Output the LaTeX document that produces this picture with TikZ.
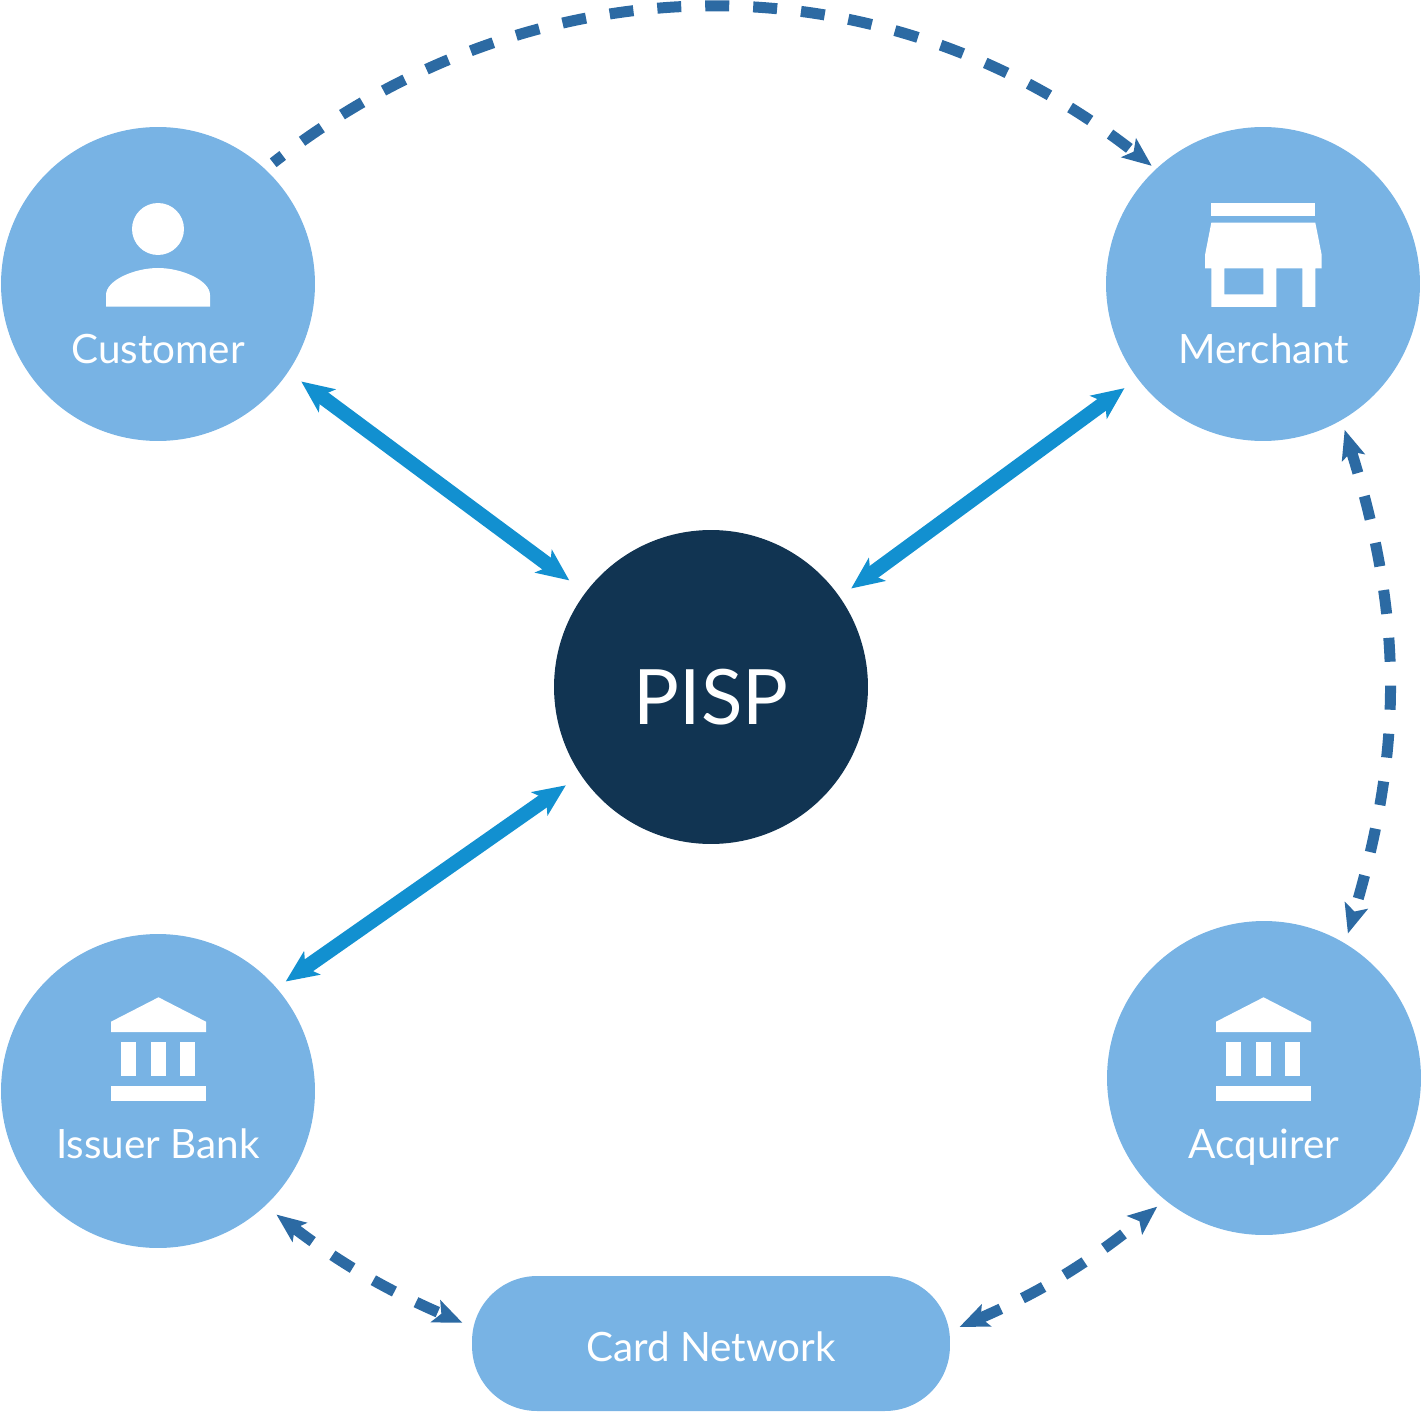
\documentclass[tikz,border=0pt]{standalone}
\usepackage{fontspec}
\setmainfont{Lato}
\usetikzlibrary{arrows.meta}
\definecolor{partyblue}{HTML}{78B3E4}
\definecolor{pispnavy}{HTML}{113452}
\definecolor{flowblue}{HTML}{1290D0}
\definecolor{linkblue}{HTML}{2C6AA3}
\tikzset{%
  party/.style    = {shape=circle, fill=partyblue, inner sep=0pt, minimum size=6.28cm},%
  hub/.style      = {party, fill=pispnavy},%
  network/.style  = {shape=rectangle, rounded corners=1.3cm, fill=partyblue, inner sep=0pt,%
                     minimum width=9.56cm, minimum height=2.7cm},%
  partytext/.style = {text=white, inner sep=0pt, anchor=base, font=\fontsize{23}{27}\selectfont},%
  flowline/.style = {draw=flowblue, line width=0.29cm,%
                     {Stealth[length=0.64cm,width=0.56cm,inset=0.16cm]}-{Stealth[length=0.64cm,width=0.56cm,inset=0.16cm]}},%
  linkline/.style = {draw=linkblue, line width=0.22cm, dash pattern=on 0.48cm off 0.48cm,%
                     shorten <=0.2cm, shorten >=0.2cm},%
  linktip/.style  = {-{Stealth[length=0.58cm,width=0.47cm,inset=0.12cm]}},%
  linktips/.style = {{Stealth[length=0.58cm,width=0.47cm,inset=0.12cm]}-{Stealth[length=0.58cm,width=0.47cm,inset=0.12cm]}},%
  bankicon/.pic = {
    \fill[white] (47.5,-80.7) -- (95,-56.3) -- (95,-46) -- (0,-46) -- (0,-56.3) -- cycle;
    \fill[white] (9.7,-36.3) rectangle (24.7,-1.7);
    \fill[white] (39.7,-36.3) rectangle (54.7,-1.7);
    \fill[white] (69.3,-36.3) rectangle (84.3,-1.7);
    \fill[white] (0,8.3) rectangle (95,23.3);
  }
}
\begin{document}
\begin{tikzpicture}[x=0.02cm,y=-0.02cm]
	\useasboundingbox (0,0) rectangle (1425,1415);
	\node [party] (customer) at (158,284) {};
	\node [party] (merchant) at (1263,284) {};
	\node [hub] (pisp) at (711,687) {};
	\node [party] (issuer) at (158,1091) {};
	\node [party] (acquirer) at (1264,1078) {};
	\node [network] (card) at (711,1343.5) {};
	\node [partytext] (customertext) at (158,364) {Customer};
	\node [partytext] (merchanttext) at (1264,364) {Merchant};
	\node [partytext] (issuertext) at (158,1158) {Issuer Bank};
	\node [partytext] (acquirertext) at (1264,1158) {Acquirer};
	\node [partytext] (cardtext) at (711,1361) {Card Network};
	\node [partytext, font=\fontsize{43.5}{50}\selectfont] (pisptext) at (711,724) {PISP};
	% icons
	\fill[white] (158,229) circle (0.52cm);
	\fill[white] (106,306.7) -- (106,295) .. controls (106,280) and (135,268) .. (158,268)
		.. controls (181,268) and (210,280) .. (210,295) -- (210,306.7) -- cycle;
	\fill[white] (1211.3,203.3) rectangle (1315.3,216);
	\fill[white, even odd rule] (1211.3,222.7) -- (1315.3,222.7) -- (1321.7,255) -- (1321.7,268.3)
		-- (1315.3,268.3) -- (1315.3,307) -- (1302.3,307) -- (1302.3,268.3) -- (1276.3,268.3)
		-- (1276.3,307) -- (1211.3,307) -- (1211.3,268.3) -- (1205,268.3) -- (1205,255) -- cycle
		(1224.3,268.3) rectangle (1263.3,294.3);
	\pic at (111,1078) {bankicon};
	\pic at (1216,1078) {bankicon};
	% solid arrows
	\draw [flowline, shorten <=0.32cm, shorten >=0.4cm] (customer.-34.9) -- (pisp.143.7);
	\draw [flowline, shorten <=0.32cm, shorten >=0.28cm] (merchant.217.7) -- (pisp.35.7);
	\draw [flowline, shorten <=0.22cm, shorten >=0.36cm] (issuer.41) -- (pisp.214.6);
	% dashed arrows
	\draw [linkline, linktip, dash phase=0.24cm, shorten >=0.1cm] (customer.47) to [bend left=38] (merchant.133);
	\draw [linkline, linktips] (merchant.-60.3) to [bend left=17] (acquirer.59.2);
	\draw [linkline, linktips, shorten <=0.28cm] (issuer.-47.5) to [bend right=7] (card.176.9);
	\draw [linkline, linktips] (card.3.6) to [bend right=8] (acquirer.-129);
\end{tikzpicture}
\end{document}
